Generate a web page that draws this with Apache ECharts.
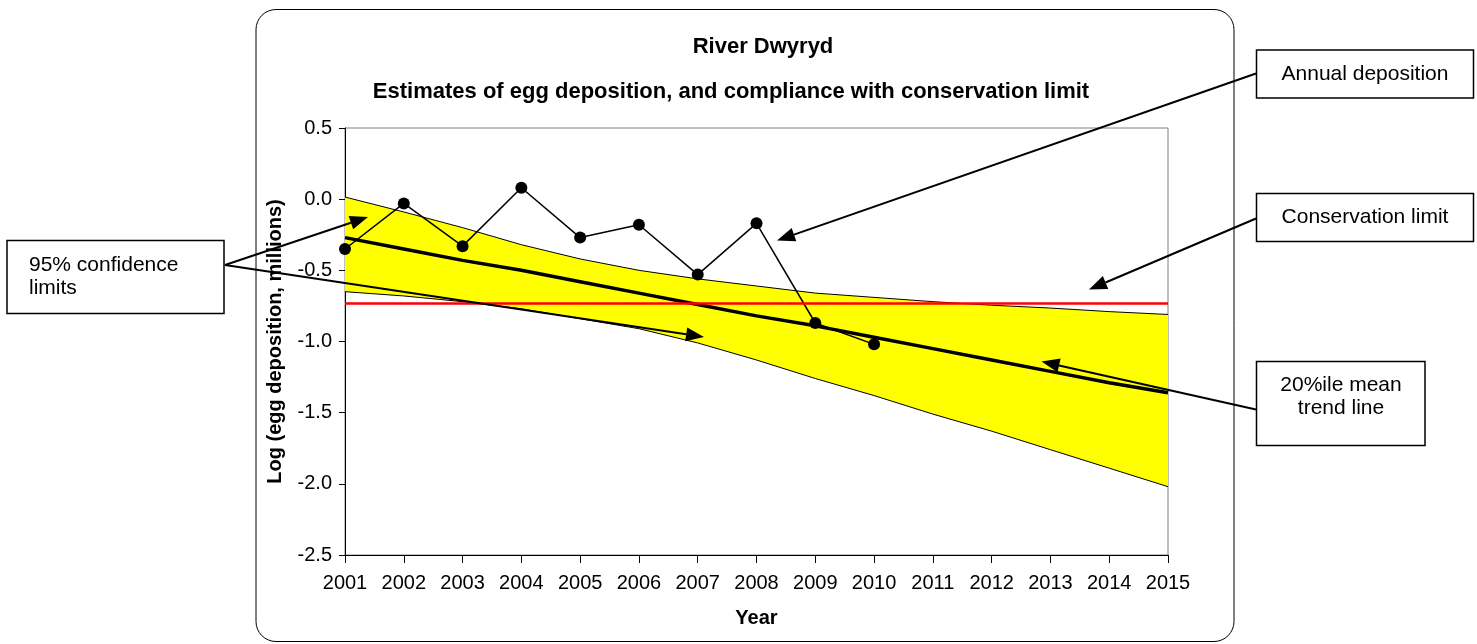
<!DOCTYPE html>
<html>
<head>
<meta charset="utf-8">
<script src="https://cdn.jsdelivr.net/npm/echarts@6/dist/echarts.min.js"></script>
<style>
html,body{margin:0;padding:0;background:#fff;}
#main{width:1477px;height:644px;}
</style>
</head>
<body>
<div id="main"></div>
<script>
// years on the x axis
var years = ['2001','2002','2003','2004','2005','2006','2007','2008','2009','2010','2011','2012','2013','2014','2015'];
// annual egg deposition (log, millions) 2001-2010
var annual = [-0.35, -0.03, -0.33, 0.08, -0.27, -0.18, -0.53, -0.17, -0.87, -1.02];
// 20%ile mean trend line
var trend = [-0.27, -0.35, -0.43, -0.50, -0.58, -0.66, -0.74, -0.82, -0.89, -0.97, -1.05, -1.13, -1.21, -1.29, -1.36];
// 95% confidence limits
var upper = [0.015, -0.09, -0.20, -0.32, -0.42, -0.50, -0.56, -0.61, -0.66, -0.69, -0.72, -0.745, -0.765, -0.79, -0.81];
var lower = [-0.65, -0.68, -0.72, -0.77, -0.84, -0.91, -1.01, -1.13, -1.26, -1.38, -1.51, -1.63, -1.76, -1.89, -2.02];
var conservationLimit = -0.73;
var yTicks = [-2.5, -2.0, -1.5, -1.0, -0.5, 0.0, 0.5];

var FONT = '"Liberation Sans", Arial, sans-serif';

// band width stacked on top of the lower limit
var bandWidth = upper.map(function (u, i) { return +(u - lower[i]).toFixed(3); });

// arrow: line + filled head
function arrow(x1, y1, x2, y2) {
    var dx = x2 - x1, dy = y2 - y1;
    var len = Math.sqrt(dx * dx + dy * dy);
    var ux = dx / len, uy = dy / len;
    var hl = 18, hw = 7;
    var bx = x2 - ux * hl, by = y2 - uy * hl;
    return [
        {type: 'line', shape: {x1: x1, y1: y1, x2: bx, y2: by}, style: {stroke: '#000', lineWidth: 2}, z: 100},
        {type: 'polygon', shape: {points: [[x2, y2], [bx - uy * hw, by + ux * hw], [bx + uy * hw, by - ux * hw]]}, style: {fill: '#000'}, z: 100}
    ];
}

function box(x, y, w, h) {
    return {type: 'rect', shape: {x: x, y: y, width: w, height: h}, style: {fill: '#fff', stroke: '#000', lineWidth: 1.5}, z: 100};
}

function label(text, x, y, align) {
    return {type: 'text', style: {text: text, x: x, y: y, align: align || 'center', verticalAlign: 'middle',
        fontSize: 21, fontFamily: FONT, fill: '#000', lineHeight: 23}, z: 101};
}

var graphics = [
    {type: 'rect', shape: {x: 256, y: 9.5, width: 978, height: 632, r: 20}, style: {fill: 'none', stroke: '#000', lineWidth: 1}, z: 90},
    box(7, 240.5, 217, 73),
    label('95% confidence\nlimits', 29, 276.5, 'left'),
    box(1256.5, 50, 217, 48),
    label('Annual deposition', 1365, 74),
    box(1256.5, 193.5, 217, 48),
    label('Conservation limit', 1365, 217.5),
    box(1256.5, 361.5, 168.5, 84),
    label('20%ile mean\ntrend line', 1341, 397)
];
graphics = graphics
    .concat(arrow(225, 265, 368, 217))
    .concat(arrow(225, 265, 704, 337))
    .concat(arrow(1256, 73.5, 777, 240.5))
    .concat(arrow(1256, 218.5, 1089, 289.5))
    .concat(arrow(1256, 409.5, 1041.5, 361.5));

var mychart = echarts.init(document.getElementById('main'));
mychart.setOption({
    animation: false,
    backgroundColor: '#fff',
    textStyle: {fontFamily: FONT},
    title: [
        {text: 'River Dwyryd', left: 758, top: 31, textAlign: 'center',
         textStyle: {fontSize: 22, fontWeight: 'bold', color: '#000', fontFamily: FONT}},
        {text: 'Estimates of egg deposition, and compliance with conservation limit', left: 726, top: 76, textAlign: 'center',
         textStyle: {fontSize: 22, fontWeight: 'bold', color: '#000', fontFamily: FONT}}
    ],
    grid: {left: 345, top: 128, width: 823, height: 427, show: true, borderColor: '#808080', borderWidth: 1, backgroundColor: 'transparent'},
    xAxis: {
        type: 'category',
        data: years,
        boundaryGap: false,
        name: 'Year',
        nameLocation: 'middle',
        nameGap: 53,
        nameTextStyle: {fontSize: 20, fontWeight: 'bold', color: '#000', fontFamily: FONT},
        axisLine: {onZero: false, lineStyle: {color: '#000', width: 1}},
        axisTick: {show: true, length: 8, alignWithLabel: true, lineStyle: {color: '#000'}},
        axisLabel: {fontSize: 20, color: '#000', margin: 18, fontFamily: FONT},
        splitLine: {show: false}
    },
    yAxis: {
        type: 'value',
        min: yTicks[0],
        max: yTicks[yTicks.length - 1],
        interval: 0.5,
        name: 'Log (egg deposition, millions)',
        nameLocation: 'middle',
        nameGap: 60,
        nameTextStyle: {fontSize: 20, fontWeight: 'bold', color: '#000', fontFamily: FONT},
        axisLine: {show: true, onZero: false, lineStyle: {color: '#000', width: 1}},
        axisTick: {show: true, length: 6, lineStyle: {color: '#000'}},
        axisLabel: {fontSize: 20, color: '#000', margin: 13, fontFamily: FONT,
            formatter: function (v) { return v.toFixed(1); }},
        splitLine: {show: false}
    },
    graphic: graphics,
    series: [
        {
            name: 'lower',
            type: 'line',
            data: lower,
            stack: 'ci',
            stackStrategy: 'all',
            symbol: 'none',
            lineStyle: {color: '#000', width: 1},
            silent: true,
            z: 2
        },
        {
            name: 'band',
            type: 'line',
            data: bandWidth,
            stack: 'ci',
            stackStrategy: 'all',
            symbol: 'none',
            lineStyle: {color: '#000', width: 1},
            areaStyle: {color: '#FFFF00', opacity: 1},
            silent: true,
            z: 1
        },
        {
            name: 'trend',
            type: 'line',
            data: trend,
            symbol: 'none',
            lineStyle: {color: '#000', width: 3.5},
            markLine: {
                silent: true,
                symbol: ['none', 'none'],
                label: {show: false},
                lineStyle: {color: '#FF0000', width: 2.5, type: 'solid'},
                data: [{yAxis: conservationLimit}]
            },
            z: 3
        },
        {
            name: 'annual',
            type: 'line',
            data: annual,
            symbol: 'circle',
            symbolSize: 12,
            itemStyle: {color: '#000'},
            lineStyle: {color: '#000', width: 1.5},
            z: 4
        }
    ]
});
</script>
</body>
</html>
